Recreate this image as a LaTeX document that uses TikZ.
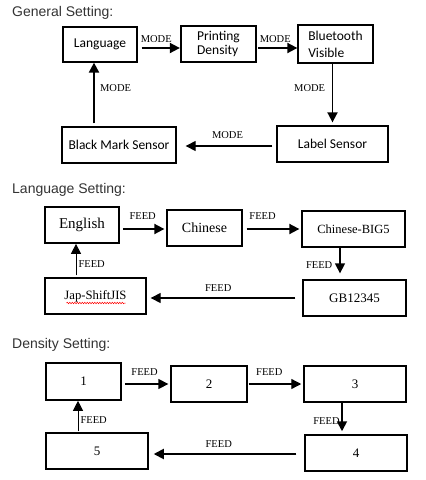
\documentclass[tikz,border=0pt]{standalone}
\usepackage{fontspec}
\setmainfont{Liberation Serif}
\newfontfamily\headfont{Liberation Sans}
\newfontfamily\boxfont{Carlito}
\usepackage{tikz}
\usetikzlibrary{arrows.meta, calc, decorations.pathmorphing}

\begin{document}
\begin{tikzpicture}[x=1pt, y=-1pt,
  box/.style={rectangle, draw, line width=1.3pt, minimum height=36pt, inner sep=2pt, font=\fontsize{13}{15}\selectfont},
  sbox/.style={box, font=\boxfont\fontsize{13.5}{15}\selectfont},
  head/.style={anchor=west, inner sep=0pt, text=black!80, font=\headfont\fontsize{14}{16}\selectfont},
  link/.style={-{Triangle[length=10pt, width=10pt]}, line width=1.8pt},
  tlink/.style={-{Triangle[length=10pt, width=10pt]}, line width=1.1pt},
  lbl/.style={font=\fontsize{10.5}{12}\selectfont, inner sep=1.5pt}
]
\useasboundingbox (0,0) rectangle (426,480);

% ===== General Setting =====
\node[head] (ghead) at (12,13) {General Setting:};
\node[sbox, minimum width=74pt, minimum height=35pt] (lang) at (100,44.5) {Language};
\node[sbox, line width=2.3pt, minimum width=75pt, align=left, font=\boxfont\fontsize{13.5}{14}\selectfont] (dens) at (218.5,44) {Printing\\Density};
\node[sbox, minimum width=75pt, minimum height=38pt, align=left, font=\boxfont\fontsize{13.5}{17}\selectfont] (blue) at (335.5,44) {Bluetooth\\Visible};
\node[sbox, minimum width=111pt] (lsens) at (332.5,144) {Label Sensor};
\node[sbox, minimum width=114pt] (bsens) at (119,145) {Black Mark Sensor};

\draw[link, shorten <=4pt] ($(lang.east)+(0,3.5)$) -- node[lbl, above=3pt, pos=0.44] {MODE} ($(dens.west)+(0,4)$);
\draw[link, shorten <=1pt] ($(dens.east)+(0,4)$) -- node[lbl, above=3pt, pos=0.45] {MODE} ($(blue.west)+(0,4)$);
\draw[link, shorten >=3pt] (blue.south -| lsens.north) -- node[lbl, left=5pt, pos=0.4] {MODE} (lsens.north);
\draw[tlink, shorten <=4pt, shorten >=9pt] ($(lsens.west)+(0,2)$) -- node[lbl, above=5pt, pos=0.49] {MODE} ($(bsens.east)+(0,1)$);
\draw[link, line width=2.2pt, shorten <=3pt] ($(bsens.north)+(-25,0)$) -- node[lbl, right=3.5pt, pos=0.6] {MODE} ($(lang.south)+(-6,0)$);

% ===== Language Setting =====
\node[head] (lhead) at (12,190) {Language Setting:};
\node[box, line width=1.7pt, minimum width=74pt, font=\fontsize{15}{17}\selectfont] (eng) at (82,225) {English};
\node[box, minimum width=75pt, font=\fontsize{14}{16}\selectfont] (chn) at (204.5,228) {Chinese};
\node[box, minimum width=103pt, font=\fontsize{12.5}{15}\selectfont] (big5) at (353.5,229) {Chinese-BIG5};
\node[box, minimum width=103pt] (gb) at (354.5,298) {GB12345};
\node[box, minimum width=101pt, font=\fontsize{12.7}{15}\selectfont] (jap) at (95.5,296) {Jap-ShiftJIS};
\draw[red, line width=0.5pt, decorate, decoration={snake, amplitude=0.7pt, segment length=2.5pt}]
  ($(jap.center)+(-29,7)$) -- ($(jap.center)+(30,7)$);

\draw[link, shorten <=3pt, shorten >=2pt] ($(eng.east)+(0,4)$) -- node[lbl, above=7pt, pos=0.49] {FEED} ($(chn.west)+(0,1)$);
\draw[link, shorten <=4pt, shorten >=2pt] ($(chn.east)+(0,1)$) -- node[lbl, above=7pt, pos=0.34] {FEED} (big5.west);
\draw[link, line width=1.4pt, shorten >=6pt] ($(big5.south)+(-13.5,0)$) -- node[lbl, left=5.5pt, pos=0.55] {FEED} ($(gb.north)+(-14.5,0)$);
\draw[tlink, shorten <=7pt, shorten >=4pt] (gb.west) -- node[lbl, above=4pt, pos=0.54] {FEED} ($(jap.east)+(0,2)$);
\draw[tlink, line width=1pt, shorten <=2pt] ($(jap.north)+(-19.5,0)$) -- node[lbl, right=0.5pt, pos=0.4] {FEED} ($(eng.south)+(-6,0)$);

% ===== Density Setting =====
\node[head] (dhead) at (12,345) {Density Setting:};
\node[box, line width=1.6pt, minimum width=75pt, minimum height=37pt] (d1) at (83.5,381.5) {1};
\node[box, minimum width=76pt] (d2) at (209,384) {2};
\node[box, line width=1.5pt, minimum width=102pt] (d3) at (355,384) {3};
\node[box, line width=1.5pt, minimum width=102pt] (d4) at (356,453) {4};
\node[box, line width=1.5pt, minimum width=102pt] (d5) at (97,451) {5};

\draw[tlink, line width=1.3pt, shorten <=3pt, shorten >=2pt] ($(d1.east)+(0,2.5)$) -- node[lbl, above=6pt, pos=0.47] {FEED} (d2.west);
\draw[tlink, line width=1.3pt, shorten <=1pt, shorten >=2pt] (d2.east) -- node[lbl, above=6pt, pos=0.39] {FEED} (d3.west);
\draw[link, shorten >=3pt] ($(d3.south)+(-13,0)$) -- node[lbl, left=0pt, pos=0.58] {FEED} ($(d4.north)+(-14,0)$);
\draw[link, shorten <=8pt, shorten >=5pt] ($(d4.west)+(0,1)$) -- node[lbl, above=4pt, pos=0.55] {FEED} ($(d5.east)+(0,3)$);
\draw[tlink, line width=1pt, shorten <=1pt] ($(d5.north)+(-19,0)$) -- node[lbl, right=0.5pt, pos=0.39] {FEED} ($(d1.south)+(-5.5,0)$);

\end{tikzpicture}
\end{document}
